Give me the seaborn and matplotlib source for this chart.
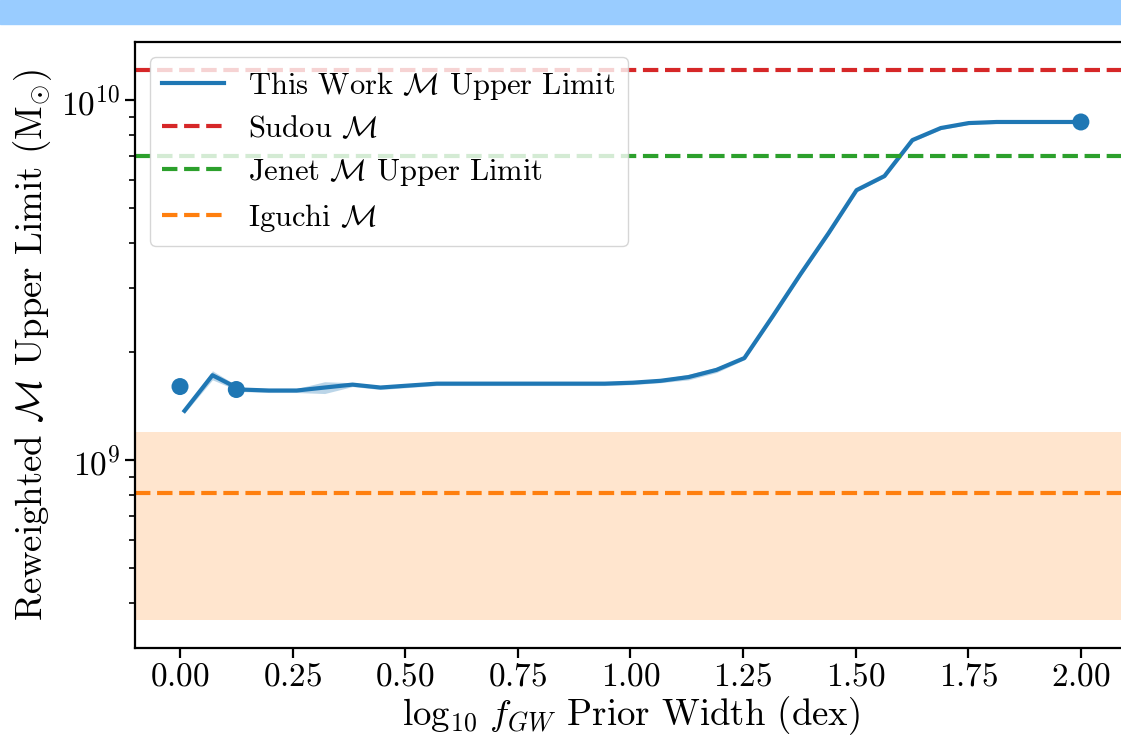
import matplotlib
matplotlib.use("Agg")
import matplotlib.pyplot as plt
import pandas as pd
import seaborn as sns
from matplotlib.patches import Rectangle

# data
prior_width = [0.01, 0.072, 0.134, 0.197, 0.259, 0.321, 0.383, 0.445, 0.507, 0.570, 0.632,
               0.694, 0.756, 0.818, 0.880, 0.943, 1.005, 1.067, 1.129, 1.191, 1.253, 1.316,
               1.378, 1.440, 1.502, 1.564, 1.626, 1.689, 1.751, 1.813, 1.875, 1.937, 2.0]
mass_limit = [1.37e9, 1.72e9, 1.57e9, 1.56e9, 1.56e9, 1.59e9, 1.62e9, 1.59e9, 1.61e9, 1.63e9, 1.63e9,
              1.63e9, 1.63e9, 1.63e9, 1.63e9, 1.63e9, 1.64e9, 1.66e9, 1.70e9, 1.78e9, 1.92e9, 2.51e9,
              3.29e9, 4.27e9, 5.62e9, 6.15e9, 7.74e9, 8.36e9, 8.63e9, 8.69e9, 8.69e9, 8.69e9, 8.69e9]
mass_lo = [1.35e9, 1.67e9, 1.55e9, 1.54e9, 1.54e9, 1.53e9, 1.60e9, 1.57e9, 1.59e9, 1.61e9, 1.61e9,
           1.61e9, 1.61e9, 1.61e9, 1.61e9, 1.61e9, 1.62e9, 1.64e9, 1.67e9, 1.75e9, 1.90e9, 2.48e9,
           3.25e9, 4.22e9, 5.56e9, 6.09e9, 7.66e9, 8.28e9, 8.55e9, 8.61e9, 8.61e9, 8.61e9, 8.61e9]
mass_hi = [1.39e9, 1.77e9, 1.59e9, 1.58e9, 1.58e9, 1.65e9, 1.64e9, 1.61e9, 1.63e9, 1.65e9, 1.65e9,
           1.65e9, 1.65e9, 1.65e9, 1.65e9, 1.65e9, 1.66e9, 1.68e9, 1.73e9, 1.81e9, 1.94e9, 2.54e9,
           3.33e9, 4.32e9, 5.68e9, 6.21e9, 7.82e9, 8.44e9, 8.71e9, 8.77e9, 8.77e9, 8.77e9, 8.77e9]

point_width = [0.0, 0.125, 2.0]
point_mass = [1.60e9, 1.57e9, 8.69e9]

sudou_mass = 1.21e10
jenet_limit = 7.0e9
iguchi_mass = 8.1e8
iguchi_range = [3.6e8, 1.2e9]

plt.rcParams["font.family"] = "cmr10"
plt.rcParams["mathtext.fontset"] = "cm"
plt.rcParams["axes.formatter.use_mathtext"] = True

df = pd.DataFrame({"width": prior_width, "mass": mass_limit})
pts = pd.DataFrame({"width": point_width, "mass": point_mass})

fig = plt.figure(figsize=(11.21, 7.38), dpi=100)
fig.patches.append(Rectangle((0, 1 - 24 / 738), 1, 24 / 738, transform=fig.transFigure,
                             color="#99ccff", zorder=-1))
ax = fig.add_axes([0.1204, 0.122, 0.884, 0.821])

blue = "#1f77b4"
sns.lineplot(data=df, x="width", y="mass", ax=ax, color=blue, lw=3, errorbar=None,
             label=r"This Work $\mathcal{M}$ Upper Limit")
ax.fill_between(prior_width, mass_lo, mass_hi, color=blue, alpha=0.3, lw=0)
sns.scatterplot(data=pts, x="width", y="mass", ax=ax, color=blue, s=150, edgecolor="none",
                zorder=3)
ax.axhline(sudou_mass, color="#d62728", ls="--", lw=3, label=r"Sudou $\mathcal{M}$")
ax.axhline(jenet_limit, color="#2ca02c", ls="--", lw=3, label=r"Jenet $\mathcal{M}$ Upper Limit")
ax.axhline(iguchi_mass, color="#ff7f0e", ls="--", lw=3, label=r"Iguchi $\mathcal{M}$")
ax.axhspan(iguchi_range[0], iguchi_range[1], color="#ff7f0e", alpha=0.2, lw=0)

ax.set_yscale("log")
ax.set_xlim(-0.1, 2.1)
ax.set_ylim(10 ** 8.478, 10 ** 10.161)
ax.set_xticks([0, 0.25, 0.5, 0.75, 1.0, 1.25, 1.5, 1.75, 2.0])
ax.set_xlabel(r"$\log_{10}\, f_{GW}$ Prior Width (dex)", fontsize=26.5, labelpad=2)
ax.set_ylabel(r"Reweighted $\mathcal{M}$ Upper Limit (M$_{\odot}$)", fontsize=26.5, labelpad=5)
ax.tick_params(which="major", labelsize=24, length=7, width=1.6)
ax.tick_params(which="minor", length=4, width=1.2)
for s in ax.spines.values():
    s.set_linewidth(1.6)
ax.legend(loc="upper left", fontsize=22, labelspacing=0.45)

fig.savefig("out.png", dpi=100)
